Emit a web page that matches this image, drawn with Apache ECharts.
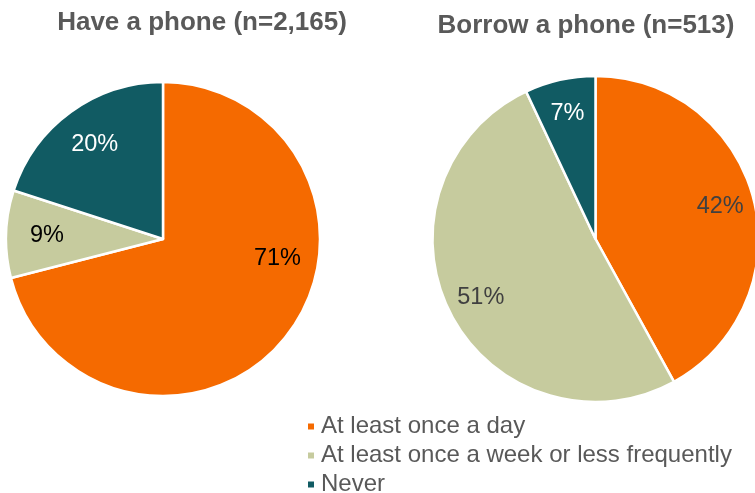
<!DOCTYPE html>
<html>
<head>
<meta charset="utf-8">
<script src="https://cdn.jsdelivr.net/npm/echarts@6/dist/echarts.min.js"></script>
<style>
  html, body { margin: 0; padding: 0; background: #fff; }
  #chart { width: 755px; height: 493px; }
</style>
</head>
<body>
<div id="chart"></div>
<script>
// Frequency categories shared by both pies
const categories = ['At least once a day', 'At least once a week or less frequently', 'Never'];
// Percent of respondents per category
const havePhone = [71, 9, 20];
const borrowPhone = [42, 51, 7];
const panelTitles = ['Have a phone (n=2,165)', 'Borrow a phone (n=513)'];

// Styling
const sliceColors = ['#F56A00', '#C6CB9E', '#115B63'];
const FONT = '"Liberation Sans", Arial, sans-serif';
const pies = [
  { center: [163, 239], radius: 157, labelAt: 0.74, angleShift: [-28, 0, 0],
    labelColors: ['#000000', '#000000', '#ffffff'], titleX: 202, titleY: 10 },
  { center: [595.5, 239], radius: 163, labelAt: 0.79, angleShift: [0, 0, 0],
    labelColors: ['#404040', '#404040', '#ffffff'], titleX: 586, titleY: 13 }
];

// Put each percentage label along its slice's middle angle
function labelPlacer(values, pie) {
  const total = values.reduce((a, b) => a + b, 0);
  return function (p) {
    let before = 0;
    for (let i = 0; i < p.dataIndex; i++) before += values[i];
    const mid = (before + values[p.dataIndex] / 2) / total * 360 + pie.angleShift[p.dataIndex];
    const rad = mid * Math.PI / 180;
    const r = pie.radius * pie.labelAt;
    return {
      x: pie.center[0] + r * Math.sin(rad),
      y: pie.center[1] - r * Math.cos(rad),
      align: 'center',
      verticalAlign: 'middle'
    };
  };
}

function pieSeries(values, pie) {
  return {
    type: 'pie',
    center: pie.center,
    radius: pie.radius,
    startAngle: 90,
    clockwise: true,
    silent: true,
    data: values.map((v, i) => ({
      name: categories[i],
      value: v,
      itemStyle: { color: sliceColors[i] },
      label: { color: pie.labelColors[i] }
    })),
    itemStyle: { borderColor: '#ffffff', borderWidth: 2.5 },
    label: {
      show: true,
      position: 'inside',
      formatter: '{c}%',
      fontFamily: FONT,
      fontSize: 23.5
    },
    labelLine: { show: false },
    labelLayout: labelPlacer(values, pie)
  };
}

const chart = echarts.init(document.getElementById('chart'), null, { renderer: 'canvas' });
chart.setOption({
  animation: false,
  backgroundColor: '#ffffff',
  title: panelTitles.map((t, i) => ({
    text: t,
    left: pies[i].titleX,
    top: pies[i].titleY,
    textAlign: 'center',
    padding: 0,
    textStyle: { fontFamily: FONT, fontSize: 26, fontWeight: 'bold', color: '#595959' }
  })),
  legend: {
    orient: 'vertical',
    left: 306,
    top: 414.5,
    height: 120,
    icon: 'rect',
    itemWidth: 8,
    itemHeight: 8,
    itemGap: 5,
    padding: 0,
    selectedMode: false,
    data: categories,
    textStyle: { fontFamily: FONT, fontSize: 24, lineHeight: 24, color: '#595959', padding: [0, 0, 0, 1] }
  },
  series: [pieSeries(havePhone, pies[0]), pieSeries(borrowPhone, pies[1])]
});
</script>
</body>
</html>
